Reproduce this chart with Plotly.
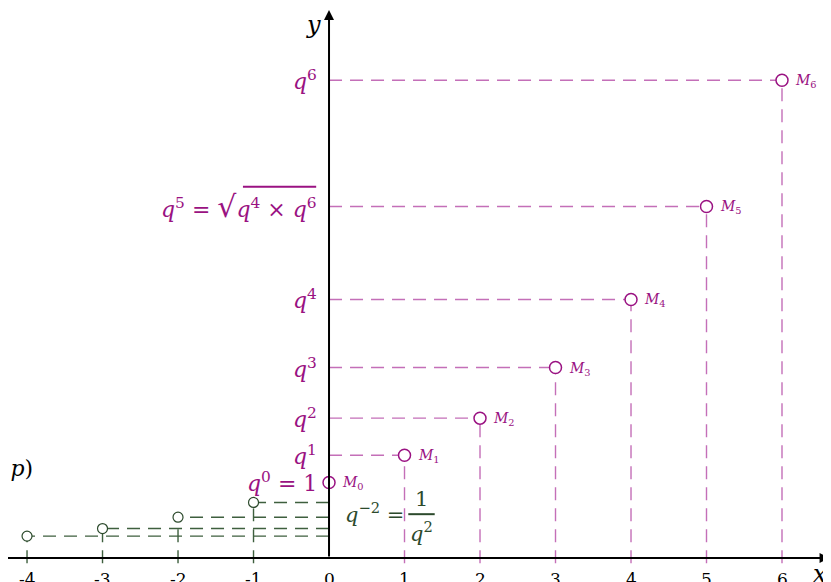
import plotly.graph_objects as go

# geometric sequence u_n = q^n, q ~ 1.36
n_pos = [0, 1, 2, 3, 4, 5, 6]
u_pos = [1.0, 1.36, 1.85, 2.52, 3.42, 4.65, 6.32]
n_neg = [-1, -2, -3, -4]
u_neg = [0.735, 0.54, 0.39, 0.29]

tick_vals = [-4, -3, -2, -1, 0, 1, 2, 3, 4, 5, 6]
tick_text = ['-4', '-3', '-2', '-1', '0', '1', '2', '3', '4', '5', '6']

y_labels = [
    '<i>q</i><sup>0</sup> = 1',
    '<i>q</i><sup>1</sup>',
    '<i>q</i><sup>2</sup>',
    '<i>q</i><sup>3</sup>',
    '<i>q</i><sup>4</sup>',
    '<i>q</i><sup>5</sup> = <span style="font-size:30px">√</span><i>q</i><sup>4</sup> × <i>q</i><sup>6</sup>',
    '<i>q</i><sup>6</sup>',
]

PURPLE = '#9a1282'
PURPLE_L = '#c46fb8'
GREEN = '#2c4a2c'
GREEN_L = '#3e5f3e'
FONT = 'DejaVu Serif'

fig = go.Figure()


def dashes(ns, us, color):
    hx, hy, vx, vy = [], [], [], []
    for n, u in zip(ns, us):
        if n == 0:
            continue
        hx += [0, n, None]
        hy += [u, u, None]
        vx += [n, n, None]
        vy += [-0.07, u, None]
    for xs, ys in ((hx, hy), (vx, vy)):
        fig.add_trace(go.Scatter(x=xs, y=ys, mode='lines', hoverinfo='skip',
                                 line=dict(color=color, width=1.4, dash='13px,8px')))


dashes(n_pos, u_pos, PURPLE_L)
dashes(n_neg, u_neg, GREEN_L)

fig.add_trace(go.Scatter(x=n_pos, y=u_pos, mode='markers',
                         marker=dict(size=12, color='white', line=dict(color=PURPLE, width=1.5))))
fig.add_trace(go.Scatter(x=n_neg, y=u_neg, mode='markers',
                         marker=dict(size=10, color='white', line=dict(color=GREEN, width=1.2))))

ann = []
# axes with arrows
ann.append(dict(x=6.63, y=0, ax=-4.3, ay=0, axref='x', ayref='y', text='',
                showarrow=True, arrowhead=2, arrowsize=1, arrowwidth=2, arrowcolor='black'))
ann.append(dict(x=0, y=7.25, ax=0, ay=0, axref='x', ayref='y', text='',
                showarrow=True, arrowhead=2, arrowsize=1, arrowwidth=2, arrowcolor='black'))
ann.append(dict(x=6.5, y=-0.21, text='<i>x</i>', showarrow=False,
                font=dict(size=24, color='black', family=FONT)))
ann.append(dict(x=-0.21, y=7.05, text='<i>y</i>', showarrow=False,
                font=dict(size=24, color='black', family=FONT)))

for v, t in zip(tick_vals, tick_text):
    ann.append(dict(x=v, y=0, text=t, showarrow=False, yanchor='top', yshift=-9,
                    font=dict(size=17, color='black', family=FONT)))

for n, u, lab in zip(n_pos, u_pos, y_labels):
    ann.append(dict(x=0, y=u, text=lab, showarrow=False, xanchor='right',
                    xshift=-10, font=dict(size=22, color=PURPLE, family=FONT)))
    ann.append(dict(x=n, y=u, text='<i>M</i><sub>%d</sub>' % n, showarrow=False,
                    xanchor='left', xshift=11, yshift=-1,
                    font=dict(size=14, color=PURPLE, family=FONT)))

# bar of the square root in the q^5 label
fig.add_shape(type='line', x0=-1.14, x1=-0.17, y0=4.91, y1=4.91,
              line=dict(color=PURPLE, width=2))

# q^-2 = 1/q^2
ann.append(dict(x=0.185, y=0.6, text='<i>q</i><sup>−2</sup> =', showarrow=False,
                xanchor='left', font=dict(size=21, color=GREEN, family=FONT)))
ann.append(dict(x=1.23, y=0.78, text='1', showarrow=False,
                font=dict(size=21, color=GREEN, family=FONT)))
ann.append(dict(x=1.22, y=0.35, text='<i>q</i><sup>2</sup>', showarrow=False,
                font=dict(size=21, color=GREEN, family=FONT)))
fig.add_shape(type='line', x0=1.05, x1=1.4, y0=0.58, y1=0.58,
              line=dict(color=GREEN, width=2))

# partial label cut by the left edge
ann.append(dict(x=-3.89, y=1.19, text='<i>q</i> = (1 + <i>p</i>)', showarrow=False,
                xanchor='right', font=dict(size=22, color='black', family=FONT)))

fig.update_layout(
    width=823, height=574,
    margin=dict(l=0, r=0, t=0, b=0),
    plot_bgcolor='white', paper_bgcolor='white',
    showlegend=False,
    annotations=ann,
    xaxis=dict(range=[-4.252, 6.649], visible=False),
    yaxis=dict(range=[-0.317, 7.275], visible=False),
)

fig.write_html("out.html")
